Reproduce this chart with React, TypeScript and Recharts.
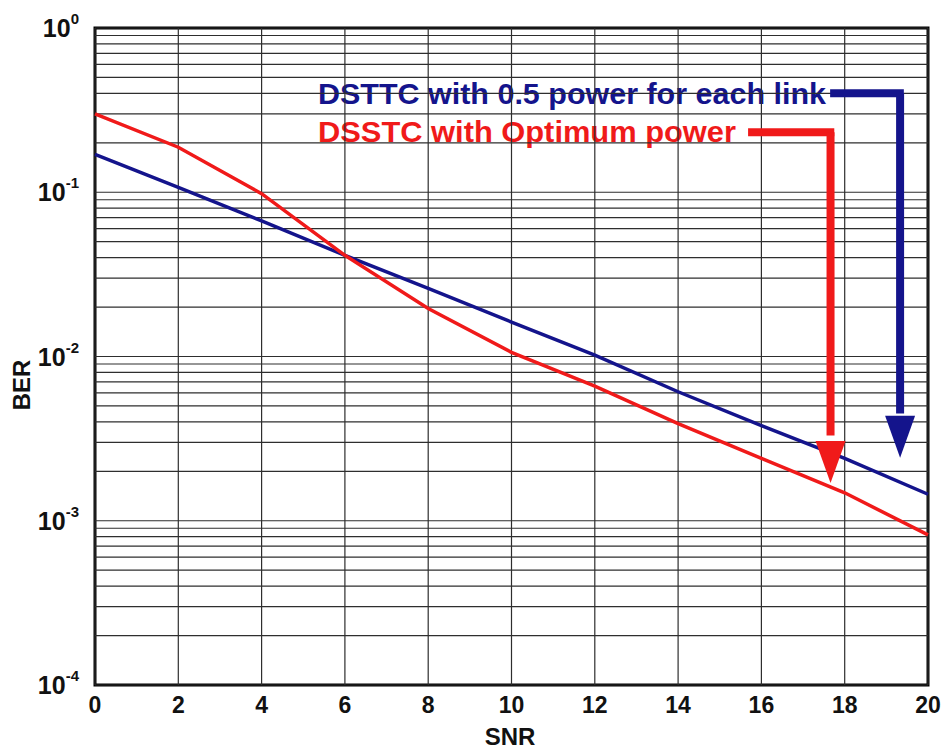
import React from 'react';
import {
  LineChart, Line, XAxis, YAxis, ReferenceLine, ReferenceArea, ReferenceDot, Customized,
} from 'recharts';

// SNR points (dB)
const snr = [0, 2, 4, 6, 8, 10, 12, 14, 16, 18, 20];
// BER
const berOptimum = [0.3, 0.188, 0.098, 0.0413, 0.0196, 0.0106, 0.0066, 0.0039, 0.0024, 0.00148, 0.00082];
const berHalf = [0.17, 0.107, 0.067, 0.0413, 0.026, 0.0162, 0.0102, 0.0061, 0.0038, 0.0024, 0.00145];

const xTicks = [0, 2, 4, 6, 8, 10, 12, 14, 16, 18, 20];
const yTicks = [1e-4, 1e-3, 1e-2, 1e-1, 1];
const decades = [1e-4, 1e-3, 1e-2, 1e-1];
const minorSteps = [2, 3, 4, 5, 6, 7, 8, 9];

const BLUE = '#14148c';
const RED = '#f01a1a';

const data = snr.map((s, i) => ({ snr: s, opt: berOptimum[i], half: berHalf[i] }));
const hGrid = [1, ...decades.flatMap((d) => [d, ...minorSteps.map((m) => d * m)])];

const tickFont = "'Liberation Sans Narrow', 'Liberation Sans', Arial, sans-serif";

function YTick(props: any) {
  const { x, y, payload } = props;
  const exp = Math.round(Math.log10(payload.value));
  return (
    <text x={x - 8} y={y + 9} textAnchor="end" fontFamily={tickFont} fontWeight="bold" fontSize={25} fill="#111">
      10
      <tspan dy={-13} fontSize={15}>{exp}</tspan>
    </text>
  );
}

function XTick(props: any) {
  const { x, y, payload } = props;
  return (
    <text x={x} y={y + 20} textAnchor="middle" fontFamily={tickFont} fontWeight="bold" fontSize={23} fill="#111">
      {payload.value}
    </text>
  );
}

const arrowHead = (color: string) => (p: any) => {
  const { cx, cy } = p;
  return <polygon points={`${cx - 15},${cy - 42} ${cx + 15},${cy - 42} ${cx},${cy}`} fill={color} />;
};

export default function App() {
  return (
    <div style={{ position: 'absolute', left: 0, top: 0, width: 942, height: 752, background: '#fff' }}>
      <LineChart width={942} height={752} data={data} margin={{ top: 28, right: 14, left: 0, bottom: 0 }}>
        <XAxis
          dataKey="snr" type="number" domain={[0, 20]} ticks={xTicks}
          tick={<XTick />} tickLine={false} axisLine={false} height={67}
        />
        <YAxis
          scale="log" type="number" domain={[1e-4, 1]} ticks={yTicks} allowDataOverflow
          tick={<YTick />} tickLine={false} axisLine={false} width={95}
        />
        {hGrid.map((v) => (
          <ReferenceLine key={`h${v}`} y={v} stroke="#2e2e2e" strokeWidth={1.2} ifOverflow="extendDomain" />
        ))}
        {xTicks.map((v) => (
          <ReferenceLine key={`v${v}`} x={v} stroke="#2e2e2e" strokeWidth={1.2} />
        ))}
        <ReferenceArea x1={0} x2={20} y1={1e-4} y2={1} fill="none" stroke="#000" strokeWidth={3} />
        <Line dataKey="half" type="linear" stroke={BLUE} strokeWidth={3.5} dot={false} isAnimationActive={false} />
        <Line dataKey="opt" type="linear" stroke={RED} strokeWidth={3.5} dot={false} isAnimationActive={false} />

        {/* annotation arrows */}
        <ReferenceLine segment={[{ x: 17.65, y: 0.4 }, { x: 19.42, y: 0.4 }]} stroke={BLUE} strokeWidth={8} />
        <ReferenceLine segment={[{ x: 19.33, y: 0.4 }, { x: 19.33, y: 0.0045 }]} stroke={BLUE} strokeWidth={8} />
        <ReferenceDot x={19.33} y={0.00242} r={1} shape={arrowHead(BLUE)} />
        <ReferenceLine segment={[{ x: 15.68, y: 0.232 }, { x: 17.75, y: 0.232 }]} stroke={RED} strokeWidth={8} />
        <ReferenceLine segment={[{ x: 17.66, y: 0.232 }, { x: 17.66, y: 0.0033 }]} stroke={RED} strokeWidth={8} />
        <ReferenceDot x={17.66} y={0.0017} r={1} shape={arrowHead(RED)} />

        <Customized
          component={() => (
            <g fontFamily="'Liberation Sans', Arial, sans-serif" fontWeight="bold">
              <text x={318} y={104} fontSize={30} fill={BLUE} textLength={508} lengthAdjust="spacingAndGlyphs">
                DSTTC with 0.5 power for each link
              </text>
              <text x={318} y={142} fontSize={30} fill={RED} textLength={418} lengthAdjust="spacingAndGlyphs">
                DSSTC with Optimum power
              </text>
              <text x={510} y={745} textAnchor="middle" fontFamily={tickFont} fontSize={24} fill="#111">SNR</text>
              <text x={30} y={385} textAnchor="middle" fontFamily={tickFont} fontSize={24} fill="#111"
                transform="rotate(-90 30 385)">BER</text>
            </g>
          )}
        />
      </LineChart>
    </div>
  );
}
